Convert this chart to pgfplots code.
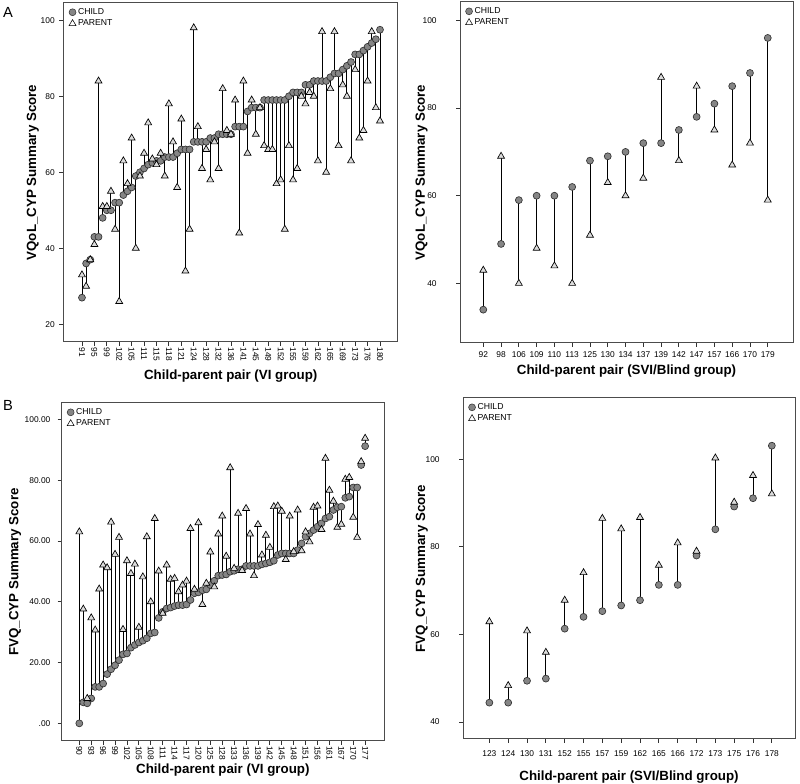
\documentclass[border=0pt]{standalone}
\usepackage{fontspec}
\setmainfont{Liberation Sans}
\usepackage{pgfplots}
\usepackage{pgfplotstable}
\pgfplotsset{compat=1.18}
\definecolor{childfill}{HTML}{858585}
\definecolor{childdraw}{HTML}{333333}
\definecolor{parfill}{HTML}{DCDCDC}

% A left: VI group, VQoL
\pgfplotstableread{
x c p
0 27 33
1 36 30
2 37 37
3 43 41
4 43 84
5 48 51
6 50 51
7 50 55
8 52 45
9 52 26
10 54 63
11 55 57
12 56 69
13 59 40
14 60 59
15 61 65
16 62 73
17 62.5 63.5
18 63 62
19 63 65
20 64 59
21 64 78
22 64 68
23 65 56
24 66 74
25 66 34
26 66 45
27 68 98
28 68 72
29 68 61
30 68 66
31 69 58
32 69 68
33 70 61
34 70 82
35 70 71
36 70 70
37 72 79
38 72 44
39 72 84
40 76 65
41 77 79
42 77 70
43 77 77
44 79 67
45 79 66
46 79 66
47 79 57
48 79 58
49 79 45
50 80 67
51 81 58
52 81 61
53 81 80
54 83 78
55 83 81
56 84 80
57 84 63
58 84 97
59 84 60
60 85 82
61 86 97
62 86 67
63 87 83
64 88 80
65 89 63
66 91 87
67 91 69
68 92 71
69 93 84
70 94 97
71 95 77
72 97.5 73.5
}\Aleft

% A right: SVI/Blind group, VQoL
\pgfplotstableread{
x c p
0 34 43
1 49 69
2 59 40
3 60 48
4 60 44
5 62 40
6 68 51
7 69 63
8 70 60
9 72 64
10 72 87
11 75 68
12 78 85
13 81 75
14 85 67
15 88 72
16 96 59
}\Aright

% B left: VI group, FVQ
\pgfplotstableread{
x c p
0 0 63
1 6.9 37.6
2 6.6 8.2
3 8.2 34.7
4 12.0 30.7
5 12.0 44.2
6 13.1 52.1
7 16.2 51.2
8 17.8 66.2
9 19.1 55.6
10 20.8 61.2
11 22.7 30.9
12 23.0 53.5
13 24.9 49.3
14 25.8 52.4
15 26.6 31.6
16 27.2 48.2
17 28.0 61.4
18 29.6 40.0
19 29.9 67.4
20 34.7 50.1
21 36.7 36.2
22 37.8 52.1
23 38.1 47.4
24 38.6 47.7
25 38.9 43.3
26 38.9 45.5
27 39.1 46.8
28 40.6 64.1
29 42.8 44.1
30 43.1 66.0
31 43.8 39.1
32 44.1 46.1
33 45.5 56.4
34 46.9 44.9
35 48.6 62.3
36 48.8 68.2
37 49.0 55.0
38 49.9 84.1
39 50.2 51.0
40 50.7 69.1
41 50.7 50.3
42 51.8 70.7
43 51.8 62.3
44 51.8 48.6
45 51.8 65.4
46 52.3 55.4
47 52.6 61.9
48 53.0 57.9
49 53.5 71.3
50 55.4 71.5
51 55.9 69.8
52 55.9 53.9
53 55.9 68.2
54 55.9 56.5
55 57.0 70.2
56 59.2 56.8
57 61.4 63.0
58 62.5 59.7
59 63.6 71.1
60 64.7 71.5
61 65.8 63.8
62 67.4 87.2
63 68.0 76.7
64 70.2 73.1
65 71.1 64.5
66 71.3 65.5
67 74.2 80.3
68 74.6 80.9
69 77.6 67.8
70 77.6 61.2
71 85.0 86.1
72 91.2 93.8
}\Bleft

% B right: SVI/Blind group, FVQ
\pgfplotstableread{
x c p
0 44.4 62.9
1 44.4 48.3
2 49.4 60.8
3 49.9 55.9
4 61.3 67.8
5 64.0 74.1
6 65.3 86.5
7 66.6 84.1
8 67.8 86.7
9 71.3 75.8
10 71.3 80.9
11 78.0 79.0
12 84.0 100.3
13 89.2 90.2
14 91.1 96.3
15 103.1 92.1
}\Bright

\pgfplotsset{
  panel/.style={
    scale only axis, anchor=south west,
    axis line style={draw=black!70, line width=0.75pt},
    tick style={black!80, line width=0.6pt},
    tick align=outside, major tick length=3pt,
    xtick pos=bottom, ytick pos=left,
    tick label style={font=\fontsize{6.3}{7}\selectfont},
    label style={font=\bfseries\fontsize{10}{11}\selectfont},
    /pgf/number format/assume math mode=true,
    legend style={draw=none, fill=none, at={(axis description cs:0.012,0.995)}, anchor=north west,
      font=\fontsize{6.5}{7}\selectfont, row sep=-0.5pt, inner sep=1pt,
      nodes={inner sep=1.5pt}},
    legend cell align=left,
  },
  seg/.style={forget plot, black, line width=0.7pt},
  childm/.style={forget plot, only marks, mark=*, mark size=2.6pt, mark options={fill=childfill, draw=childdraw, line width=0.5pt}},
  parm/.style={forget plot, only marks, mark=triangle*, mark size=3pt, mark options={fill=parfill, draw=black, line width=0.5pt}},
}

\begin{document}
\begin{tikzpicture}
\useasboundingbox (0,0) rectangle (600pt,588pt);
\node[font=\fontsize{11}{12}\selectfont] at (6pt,579pt) {A};
\node[font=\fontsize{11}{12}\selectfont] at (6pt,284.25pt) {B};

% ---- A left
\begin{axis}[panel, at={(47.6pt,331.5pt)}, width=250.9pt, height=254.3pt,
  xmin=-4.47, xmax=76.35, ymin=15.34, ymax=104.55,
  xtick={0,3,...,72},
  xticklabels={91,95,99,102,105,111,115,118,121,124,128,132,136,141,145,149,152,155,159,162,165,169,173,176,180},
  xticklabel style={rotate=-90, anchor=west, inner sep=1pt},
  ytick={20,40,60,80,100},
  xlabel={Child-parent pair (VI group)},
  ylabel={VQoL\_CYP Summary Score},
  xlabel style={at={(axis description cs:0.5,-0.102)}, anchor=center},
  ylabel style={at={(axis description cs:-0.0912,0.5)}, anchor=center},
]
\addplot[seg, quiver={u=0, v=\thisrow{p}-\thisrow{c}}] table[x=x,y=c]{\Aleft};
\addplot[childm] table[x=x,y=c]{\Aleft};
\addplot[parm] table[x=x,y=p]{\Aleft};
\addlegendimage{only marks, mark=*, mark size=2.6pt, mark options={fill=childfill, draw=childdraw}}
\addlegendentry{CHILD}
\addlegendimage{only marks, mark=triangle, mark size=3pt, mark options={draw=black}}
\addlegendentry{PARENT}
\end{axis}

% ---- A right
\begin{axis}[panel, at={(345pt,330.75pt)}, width=249.75pt, height=255.75pt,
  xmin=-1.31, xmax=17.42, ymin=26.4, ymax=104.2,
  xtick={0,...,16},
  xticklabels={92,98,106,109,110,113,125,130,134,137,139,142,147,157,166,170,179},
  ytick={40,60,80,100},
  yticklabel style={xshift=-11pt},
  xlabel={Child-parent pair (SVI/Blind group)},
  ylabel={VQoL\_CYP Summary Score},
  xlabel style={at={(axis description cs:0.5,-0.082)}, anchor=center},
  ylabel style={at={(axis description cs:-0.115,0.5)}, anchor=center},
]
\addplot[seg, quiver={u=0, v=\thisrow{p}-\thisrow{c}}] table[x=x,y=c]{\Aright};
\addplot[childm] table[x=x,y=c]{\Aright};
\addplot[parm] table[x=x,y=p]{\Aright};
\addlegendimage{only marks, mark=*, mark size=2.6pt, mark options={fill=childfill, draw=childdraw}}
\addlegendentry{CHILD}
\addlegendimage{only marks, mark=triangle, mark size=3pt, mark options={draw=black}}
\addlegendentry{PARENT}
\end{axis}

% ---- B left
\begin{axis}[panel, at={(46.3pt,32.25pt)}, width=241.7pt, height=253.5pt,
  xmin=-4.43, xmax=76.75, ymin=-5.8, ymax=105.4,
  xtick={0,3,...,72},
  xticklabels={90,93,96,99,102,105,108,111,114,117,120,125,128,133,136,139,142,145,148,151,156,161,167,170,177},
  xticklabel style={rotate=-90, anchor=west, inner sep=0.8pt},
  ytick={0,20,40,60,80,100},
  yticklabels={.00,20.00,40.00,60.00,80.00,100.00},
  yticklabel style={xshift=-2pt},
  xlabel={Child-parent pair (VI group)},
  ylabel={FVQ\_CYP Summary Score},
  xlabel style={at={(axis description cs:0.5,-0.087)}, anchor=center},
  ylabel style={at={(axis description cs:-0.145,0.5)}, anchor=center},
]
\addplot[seg, quiver={u=0, v=\thisrow{p}-\thisrow{c}}] table[x=x,y=c]{\Bleft};
\addplot[childm] table[x=x,y=c]{\Bleft};
\addplot[parm] table[x=x,y=p]{\Bleft};
\addlegendimage{only marks, mark=*, mark size=2.6pt, mark options={fill=childfill, draw=childdraw}}
\addlegendentry{CHILD}
\addlegendimage{only marks, mark=triangle, mark size=3pt, mark options={draw=black}}
\addlegendentry{PARENT}
\end{axis}

% ---- B right
\begin{axis}[panel, at={(347.25pt,33.75pt)}, width=249pt, height=255.75pt,
  xmin=-1.40, xmax=16.23, ymin=36.1, ymax=114.0,
  xtick={0,...,15},
  xticklabels={123,124,130,131,152,155,157,159,162,165,166,172,173,175,176,178},
  xticklabel style={yshift=-2pt},
  ytick={40,60,80,100},
  yticklabel style={xshift=-11pt},
  xlabel={Child-parent pair (SVI/Blind group)},
  ylabel={FVQ\_CYP Summary Score},
  xlabel style={at={(axis description cs:0.5,-0.1106)}, anchor=center},
  ylabel style={at={(axis description cs:-0.124,0.5)}, anchor=center},
]
\addplot[seg, quiver={u=0, v=\thisrow{p}-\thisrow{c}}] table[x=x,y=c]{\Bright};
\addplot[childm] table[x=x,y=c]{\Bright};
\addplot[parm] table[x=x,y=p]{\Bright};
\addlegendimage{only marks, mark=*, mark size=2.6pt, mark options={fill=childfill, draw=childdraw}}
\addlegendentry{CHILD}
\addlegendimage{only marks, mark=triangle, mark size=3pt, mark options={draw=black}}
\addlegendentry{PARENT}
\end{axis}
\end{tikzpicture}
\end{document}
